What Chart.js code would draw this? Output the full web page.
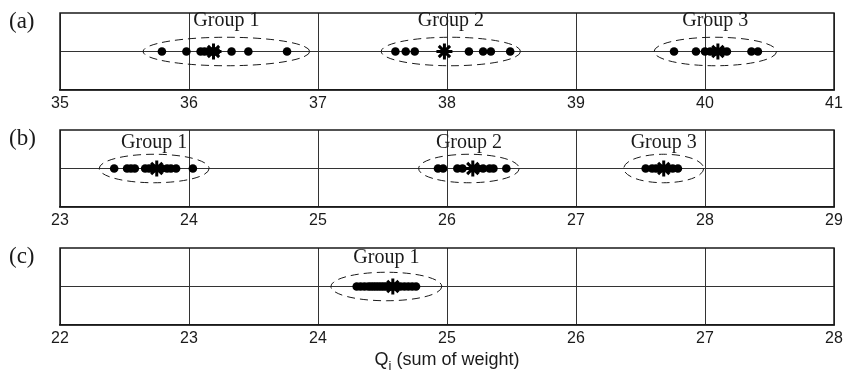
<!DOCTYPE html>
<html lang="en">
<head>
<meta charset="UTF-8" />
<title>Groups by sum of weight</title>
<script src="https://cdn.jsdelivr.net/npm/chart.js"></script>
<style>
  html, body { margin: 0; padding: 0; background: #fff; }
  #wrap { position: relative; width: 845px; height: 379px; overflow: hidden; }
  #wrap canvas { position: absolute; left: 0; }
</style>
</head>
<body>
<div id="wrap">
  <canvas id="panelA" width="845" height="121" style="top:0px"></canvas>
  <canvas id="panelB" width="845" height="121" style="top:117px"></canvas>
  <canvas id="panelC" width="845" height="144" style="top:235px"></canvas>
</div>
<script>
// Qi of every member, one array per group
const a1 = [35.79, 35.98, 36.09, 36.12, 36.15, 36.18, 36.21, 36.33, 36.46, 36.76];
const a2 = [37.60, 37.68, 37.75, 38.17, 38.28, 38.34, 38.49];
const a3 = [39.76, 39.93, 40.00, 40.04, 40.08, 40.14, 40.17, 40.36, 40.41];
const b1 = [23.42, 23.52, 23.55, 23.58, 23.66, 23.69, 23.72, 23.79, 23.83, 23.86, 23.90, 24.03];
const b2 = [25.93, 25.97, 26.08, 26.12, 26.24, 26.28, 26.33, 26.36, 26.46];
const b3 = [27.54, 27.59, 27.62, 27.65, 27.72, 27.75, 27.79];
const c1 = [24.30, 24.33, 24.36, 24.39, 24.41, 24.43, 24.45, 24.47, 24.49, 24.51,
            24.53, 24.55, 24.57, 24.60, 24.62, 24.64, 24.67, 24.70, 24.73, 24.76];

// group centres (asterisks)
const centresA = [36.19, 37.98, 40.10];
const centresB = [23.75, 26.20, 27.68];
const centresC = [24.58];

// dashed ellipse around each group: middle and half width in Qi
const ringMidA = [36.29, 38.03, 40.08], ringHalfA = [0.646, 0.54, 0.475];
const ringMidB = [23.73, 26.17, 27.68], ringHalfB = [0.426, 0.39, 0.31];
const ringMidC = [24.53], ringHalfC = [0.43];

// axis ticks
const ticksA = [35, 36, 37, 38, 39, 40, 41];
const ticksB = [23, 24, 25, 26, 27, 28, 29];
const ticksC = [22, 23, 24, 25, 26, 27, 28];

const groupNames = ['Group 1', 'Group 2', 'Group 3'];
const panelNames = ['(a)', '(b)', '(c)'];

const INK = '#1a1a1a';
const RING_H = 0.37;   // half height of the ellipses, in y units

const groupPlugin = {
  id: 'groups',
  beforeDatasetsDraw(chart, args, opts) {
    const { ctx, scales: { x, y } } = chart;
    const cy = y.getPixelForValue(0), ry = cy - y.getPixelForValue(RING_H);
    ctx.save();
    ctx.strokeStyle = INK; ctx.lineWidth = 1; ctx.setLineDash([8, 5]);
    opts.mids.forEach((m, i) => {
      const cx = x.getPixelForValue(m);
      const rx = x.getPixelForValue(m + opts.halves[i]) - cx;
      ctx.beginPath(); ctx.ellipse(cx, cy, rx, ry, 0, 0, Math.PI * 2); ctx.stroke();
    });
    ctx.setLineDash([]);
    ctx.font = '20px "Liberation Serif"'; ctx.fillStyle = INK;
    ctx.textAlign = 'center'; ctx.textBaseline = 'alphabetic';
    opts.mids.forEach((m, i) => {
      ctx.fillText(groupNames[i], x.getPixelForValue(m), y.getPixelForValue(opts.labelY));
    });
    ctx.restore();
  },
  afterDraw(chart, args, opts) {
    const { ctx, chartArea: ca } = chart;
    ctx.save();
    ctx.strokeStyle = INK; ctx.lineWidth = 1.5;
    ctx.strokeRect(ca.left, ca.top, ca.right - ca.left, ca.bottom - ca.top);
    ctx.font = '23px "Liberation Serif"'; ctx.fillStyle = INK;
    ctx.textAlign = 'left'; ctx.textBaseline = 'alphabetic';
    ctx.fillText(opts.panel, 9, ca.top + 15);
    if (opts.xTitle) {
      // Q with subscript i, then the rest
      const base = ca.bottom + 40;
      const big = '18px "Liberation Sans"', small = '13px "Liberation Sans"';
      ctx.font = big; const wQ = ctx.measureText('Q').width, wRest = ctx.measureText(' (sum of weight)').width;
      ctx.font = small; const wi = ctx.measureText('i').width;
      let px = 447 - (wQ + wi + wRest) / 2;
      ctx.font = big; ctx.fillText('Q', px, base); px += wQ;
      ctx.font = small; ctx.fillText('i', px, base + 5); px += wi;
      ctx.font = big; ctx.fillText(' (sum of weight)', px, base);
    }
    ctx.restore();
  }
};

function makePanel(id, idx, groups, centres, mids, halves, ticks, labelY, padBottom, xTitle) {
  const dots = groups.map(g => ({
    data: g.map(v => ({ x: v, y: 0 })),
    pointRadius: 4.3, pointHoverRadius: 4.3,
    backgroundColor: '#000', borderWidth: 0, order: 1
  }));
  const stars = {
    data: centres.map(v => ({ x: v, y: 0 })),
    pointStyle: 'star', pointRadius: 8, pointHoverRadius: 8,
    borderColor: '#000', borderWidth: 3, backgroundColor: '#000', order: 0
  };
  return new Chart(document.getElementById(id), {
    type: 'scatter',
    data: { datasets: [stars, ...dots] },
    options: {
      responsive: false, animation: false,
      layout: { padding: { left: 60, right: 8, top: 13, bottom: padBottom } },
      plugins: {
        legend: { display: false }, tooltip: { enabled: false },
        groups: { mids, halves, labelY, panel: panelNames[idx], xTitle }
      },
      scales: {
        x: {
          type: 'linear', min: ticks[0], max: ticks[ticks.length - 1],
          afterBuildTicks: s => { s.ticks = ticks.map(v => ({ value: v })); },
          afterFit: s => { s.height = 31; s.paddingRight = 0; s.paddingLeft = 0; },
          grid: { color: '#333', lineWidth: 1, drawTicks: false },
          border: { display: true, color: INK, width: 1.5 },
          ticks: { padding: 4, color: INK, font: { family: 'Liberation Sans', size: 16 } }
        },
        y: {
          min: -1, max: 1,
          ticks: { display: false, stepSize: 1 },
          afterFit: s => { s.width = 0; },
          grid: { drawTicks: false, lineWidth: 1, color: c => c.tick && c.tick.value === 0 ? '#333' : 'rgba(0,0,0,0)' },
          border: { display: false }
        }
      }
    },
    plugins: [groupPlugin]
  });
}

makePanel('panelA', 0, [a1, a2, a3], centresA, ringMidA, ringHalfA, ticksA, 0.66, 0, false);
makePanel('panelB', 1, [b1, b2, b3], centresB, ringMidB, ringHalfB, ticksB, 0.52, 0, false);
makePanel('panelC', 2, [c1], centresC, ringMidC, ringHalfC, ticksC, 0.6, 23, true);
</script>
</body>
</html>
